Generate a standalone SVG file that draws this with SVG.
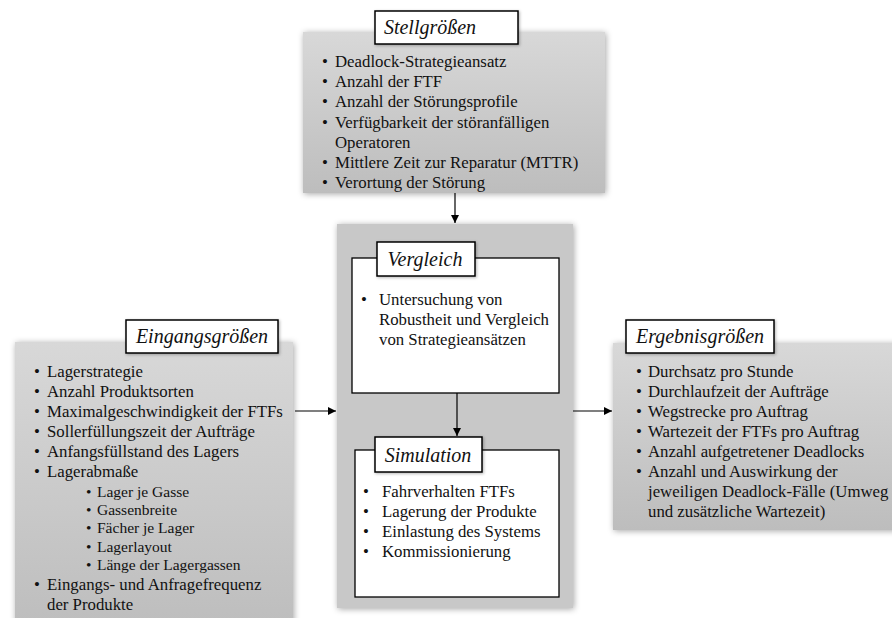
<svg xmlns="http://www.w3.org/2000/svg" width="892" height="618" viewBox="0 0 892 618" font-family="'Liberation Serif', 'Times New Roman', serif">
<defs>
<linearGradient id="g" x1="0" y1="0" x2="0" y2="1">
<stop offset="0" stop-color="#d8d8d8"/>
<stop offset="1" stop-color="#bdbdbd"/>
</linearGradient>
<filter id="sh" x="-10%" y="-10%" width="120%" height="120%">
<feDropShadow dx="1" dy="1" stdDeviation="3" flood-color="#000" flood-opacity="0.35"/>
</filter>
<filter id="sh2" x="-10%" y="-10%" width="120%" height="130%">
<feDropShadow dx="1" dy="1" stdDeviation="1.5" flood-color="#000" flood-opacity="0.3"/>
</filter>
<marker id="ah" viewBox="0 0 10 10" refX="10" refY="5" markerWidth="8" markerHeight="8" markerUnits="userSpaceOnUse" orient="auto">
<path d="M0,0 L10,5 L0,10 z" fill="#000"/>
</marker>
</defs>
<style>
.panel{fill:url(#g);filter:url(#sh);}
.inner{fill:#fff;stroke:#000;stroke-width:1.3;}
.title{fill:#fff;stroke:#000;stroke-width:1.5;filter:url(#sh2);}
text{font-family:'Liberation Serif','Times New Roman',serif;fill:#111;}
.t{font-size:16.8px;}
.s{font-size:15.5px;}
.h{font-size:20px;font-style:italic;text-anchor:middle;}
.c{stroke:#000;stroke-width:1.2;fill:none;marker-end:url(#ah);}
</style>
<rect width="892" height="618" fill="#fff"/>

<g id="connectors">
<line class="c" x1="455" y1="193" x2="455" y2="223"/>
<line class="c" x1="295" y1="411" x2="336" y2="411"/>
<line class="c" x1="573" y1="411" x2="612" y2="411"/>
</g>

<g id="stellgroessen">
<rect class="panel" x="303" y="32" width="302" height="161"/>
<rect class="title" x="375" y="11" width="143" height="33"/>
<text class="h" x="430" y="34">Stellgrößen</text>
<g class="t">
<text x="322" y="67">•</text><text x="335" y="67">Deadlock-Strategieansatz</text>
<text x="322" y="87">•</text><text x="335" y="87">Anzahl der FTF</text>
<text x="322" y="107">•</text><text x="335" y="107">Anzahl der Störungsprofile</text>
<text x="322" y="128">•</text><text x="335" y="128">Verfügbarkeit der störanfälligen</text>
<text x="335" y="148">Operatoren</text>
<text x="322" y="168">•</text><text x="335" y="168">Mittlere Zeit zur Reparatur (MTTR)</text>
<text x="322" y="188">•</text><text x="335" y="188">Verortung der Störung</text>
</g>
</g>

<g id="eingangsgroessen">
<rect class="panel" x="15" y="342" width="278" height="290"/>
<rect class="title" x="126" y="320" width="152" height="33"/>
<text class="h" x="202" y="343">Eingangsgrößen</text>
<g class="t">
<text x="34" y="377">•</text><text x="47" y="377">Lagerstrategie</text>
<text x="34" y="397">•</text><text x="47" y="397">Anzahl Produktsorten</text>
<text x="34" y="417">•</text><text x="47" y="417">Maximalgeschwindigkeit der FTFs</text>
<text x="34" y="437">•</text><text x="47" y="437">Sollerfüllungszeit der Aufträge</text>
<text x="34" y="457">•</text><text x="47" y="457">Anfangsfüllstand des Lagers</text>
<text x="34" y="477">•</text><text x="47" y="477">Lagerabmaße</text>
</g>
<g class="s">
<text x="86" y="497">•</text><text x="97" y="497">Lager je Gasse</text>
<text x="86" y="515">•</text><text x="97" y="515">Gassenbreite</text>
<text x="86" y="533">•</text><text x="97" y="533">Fächer je Lager</text>
<text x="86" y="552">•</text><text x="97" y="552">Lagerlayout</text>
<text x="86" y="570">•</text><text x="97" y="570">Länge der Lagergassen</text>
</g>
<g class="t">
<text x="34" y="590">•</text><text x="47" y="590">Eingangs- und Anfragefrequenz</text>
<text x="47" y="610">der Produkte</text>
</g>
</g>

<g id="zentrum">
<rect x="337" y="224" width="236" height="384" fill="#c8c8c8" filter="url(#sh)"/>
</g>

<g id="vergleich">
<rect class="inner" x="352" y="258" width="207" height="135"/>
<rect class="title" x="377" y="242" width="98" height="34"/>
<text class="h" x="425" y="266">Vergleich</text>
<g class="t">
<text x="361" y="305">•</text><text x="379" y="305">Untersuchung von</text>
<text x="379" y="325">Robustheit und Vergleich</text>
<text x="379" y="345">von Strategieansätzen</text>
</g>
</g>

<g id="vergleich-simulation">
<line class="c" x1="457" y1="393" x2="457" y2="436"/>
</g>

<g id="simulation">
<rect class="inner" x="355" y="450" width="204" height="147"/>
<rect class="title" x="375" y="437" width="107" height="35"/>
<text class="h" x="428" y="462">Simulation</text>
<g class="t">
<text x="363" y="497">•</text><text x="382" y="497">Fahrverhalten FTFs</text>
<text x="363" y="517">•</text><text x="382" y="517">Lagerung der Produkte</text>
<text x="363" y="537">•</text><text x="382" y="537">Einlastung des Systems</text>
<text x="363" y="557">•</text><text x="382" y="557">Kommissionierung</text>
</g>
</g>

<g id="ergebnisgroessen">
<rect class="panel" x="613" y="343" width="290" height="187"/>
<rect class="title" x="626" y="320" width="148" height="33"/>
<text class="h" x="700" y="343">Ergebnisgrößen</text>
<g class="t">
<text x="636" y="377">•</text><text x="648" y="377">Durchsatz pro Stunde</text>
<text x="636" y="397">•</text><text x="648" y="397">Durchlaufzeit der Aufträge</text>
<text x="636" y="417">•</text><text x="648" y="417">Wegstrecke pro Auftrag</text>
<text x="636" y="437">•</text><text x="648" y="437">Wartezeit der FTFs pro Auftrag</text>
<text x="636" y="457">•</text><text x="648" y="457">Anzahl aufgetretener Deadlocks</text>
<text x="636" y="477">•</text><text x="648" y="477">Anzahl und Auswirkung der</text>
<text x="648" y="497">jeweiligen Deadlock-Fälle (Umweg</text>
<text x="648" y="517">und zusätzliche Wartezeit)</text>
</g>
</g>
</svg>
